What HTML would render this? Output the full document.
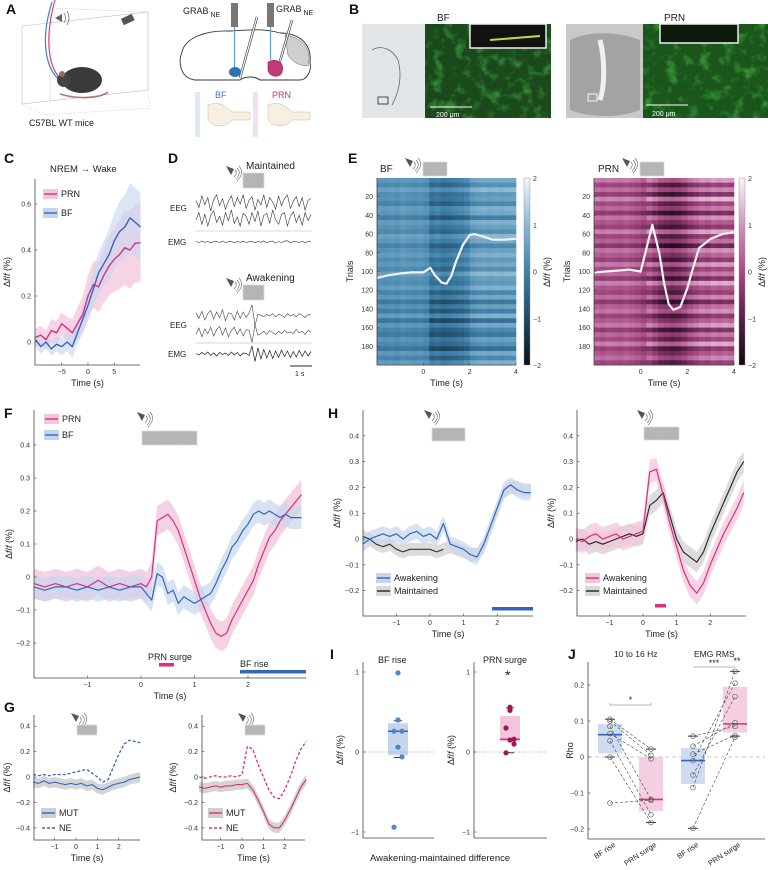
<!DOCTYPE html>
<html><head><meta charset="utf-8">
<style>
html,body{margin:0;padding:0;background:#fff;}
svg{display:block;font-family:"Liberation Sans",sans-serif;}
text{font-family:"Liberation Sans",sans-serif;fill:#222;}
.pl{font-weight:bold;font-size:14px;fill:#111;}
.tk{font-size:7px;fill:#333;}
.lb{font-size:9px;fill:#222;}
</style></head>
<body>
<svg id="fig" width="768" height="870" viewBox="0 0 768 870" xmlns="http://www.w3.org/2000/svg">
<defs>
<filter id="grn" x="0" y="0" width="100%" height="100%">
<feTurbulence type="fractalNoise" baseFrequency="0.09" numOctaves="3" seed="4"/>
<feColorMatrix type="matrix" values="0 0 0 0 0.1  0 0 0 0 0.7  0 0 0 0 0.1  0 0 0 1.3 -0.65"/>
</filter>
<filter id="nz" x="0" y="0" width="100%" height="100%">
<feTurbulence type="fractalNoise" baseFrequency="0.9" numOctaves="1" seed="2"/>
<feColorMatrix type="matrix" values="0 0 0 0 0.5 0 0 0 0 0.5 0 0 0 0 0.5 0 0 0 0.6 0"/>
</filter>
<linearGradient id="cbBF" x1="0" y1="1" x2="0" y2="0">
<stop offset="0" stop-color="#0b1218"/><stop offset="0.25" stop-color="#1f4a66"/><stop offset="0.5" stop-color="#3f80a8"/><stop offset="0.75" stop-color="#8ab8d2"/><stop offset="1" stop-color="#f4f8fb"/>
</linearGradient>
<linearGradient id="cbPRN" x1="0" y1="1" x2="0" y2="0">
<stop offset="0" stop-color="#120810"/><stop offset="0.25" stop-color="#5c1f47"/><stop offset="0.5" stop-color="#a64a83"/><stop offset="0.75" stop-color="#d394bd"/><stop offset="1" stop-color="#fbf4f8"/>
</linearGradient>
</defs>

<text class="pl" x="6" y="14">A</text>
<text class="pl" x="349" y="14">B</text>
<text class="pl" x="4" y="163">C</text>
<text class="pl" x="168" y="163">D</text>
<text class="pl" x="348" y="163">E</text>
<text class="pl" x="4" y="418">F</text>
<text class="pl" x="328" y="418">H</text>
<text class="pl" x="4" y="712">G</text>
<text class="pl" x="330" y="659">I</text>
<text class="pl" x="568" y="659">J</text>

<g>
<polyline points="22,26 148,12 148,90 22,104 22,26" fill="none" stroke="#bbb" stroke-width="0.6"/>
<polyline points="50,8 150,12" fill="none" stroke="#ccc" stroke-width="0.5" stroke-dasharray="2,1"/>
<polyline points="22,104 45,115 150,108 148,90" fill="none" stroke="#ccc" stroke-width="0.5" stroke-dasharray="2,1"/>
<line x1="50" y1="10" x2="50" y2="100" stroke="#ccc" stroke-width="0.5"/>
<path d="M52,2 C40,40 45,70 62,82" stroke="#4a7fc1" stroke-width="1.2" fill="none"/>
<path d="M55,0 C44,40 48,70 64,82" stroke="#d63a7a" stroke-width="1.1" fill="none"/>
<ellipse cx="82" cy="80" rx="20" ry="13" fill="#3a3a3a"/>
<circle cx="64" cy="80" r="7" fill="#444"/>
<circle cx="62" cy="74" r="3" fill="#9a6b6b"/>
<path d="M60,94 C80,100 100,98 108,92" stroke="#b5736e" stroke-width="1.5" fill="none"/>
<path d="M55,18 l7,-4 l0,8 z" fill="#666"/>
<path d="M64,13 q3,5 0,10 M67,11 q4,7 0,14" stroke="#666" stroke-width="0.7" fill="none"/>
<rect x="122" y="16" width="12" height="7" fill="#555" transform="rotate(-25 128 20)"/>
</g>
<text x="29" y="126" font-size="9">C57BL WT mice</text>
<g>
<path d="M182,52 C185,38 205,30 230,31 C250,30 262,28 280,33 C300,33 312,45 310,62 C312,72 306,80 300,80 L260,80 C255,76 245,76 240,80 L195,80 C180,78 178,62 182,52 Z" fill="#fff" stroke="#333" stroke-width="0.9"/>
<path d="M285,35 C305,38 312,52 308,66 C300,66 292,62 288,55 Z" fill="#cfcfcf" stroke="#666" stroke-width="0.5"/>
<rect x="231" y="3" width="7" height="24" fill="#777"/>
<rect x="267" y="3" width="7" height="24" fill="#777"/>
<line x1="234.5" y1="27" x2="234.5" y2="68" stroke="#5aa0d8" stroke-width="1.2"/>
<line x1="270.5" y1="27" x2="270.5" y2="60" stroke="#5aa0d8" stroke-width="1.2"/>
<line x1="257" y1="17" x2="240" y2="78" stroke="#333" stroke-width="2.4"/>
<line x1="257" y1="17" x2="240" y2="78" stroke="#fff" stroke-width="1.2"/>
<line x1="292" y1="20" x2="276" y2="75" stroke="#333" stroke-width="2.4"/>
<line x1="292" y1="20" x2="276" y2="75" stroke="#fff" stroke-width="1.2"/>
<ellipse cx="235" cy="72" rx="6" ry="5" fill="#2f6fb5"/>
<path d="M268,62 C276,58 285,62 282,72 C280,78 270,78 268,70 Z" fill="#c23a7a" stroke="#8a1f55" stroke-width="0.6"/>
<rect x="195" y="92" width="5" height="45" fill="#dde9f6"/>
<rect x="253" y="92" width="5" height="45" fill="#f1e1ee"/>
<path d="M208,105 C220,100 228,108 232,112 L250,112 L250,120 L232,120 C226,128 210,128 208,118 Z" fill="#f6efe2" stroke="#c9b79a" stroke-width="0.5"/>
<path d="M268,105 C280,100 288,108 292,112 L310,112 L310,120 L292,120 C286,128 270,128 268,118 Z" fill="#f6efe2" stroke="#c9b79a" stroke-width="0.5"/>
</g>
<text x="183" y="14" font-size="9">GRAB<tspan font-size="7" dy="3"> NE</tspan></text>
<text x="276" y="12" font-size="9">GRAB<tspan font-size="7" dy="3"> NE</tspan></text>
<text x="215" y="98" font-size="9" style="fill:#3a7cc3">BF</text>
<text x="272" y="98" font-size="9" style="fill:#c2386f">PRN</text>

<text x="437" y="21" font-size="10">BF</text>
<text x="664" y="21" font-size="10">PRN</text>
<g>
<rect x="362" y="24" width="63" height="94" fill="#e2e5e7"/>
<path d="M372,50 C380,45 392,48 398,60 C402,75 400,90 392,105" stroke="#666" stroke-width="0.8" fill="none"/>
<rect x="378" y="97" width="10" height="7" fill="none" stroke="#222" stroke-width="0.8"/>
<rect x="425" y="24" width="126" height="94" fill="#1a4a1c"/>
<rect x="425" y="24" width="126" height="94" filter="url(#grn)"/>
<rect x="470" y="24" width="76" height="24" fill="#111" stroke="#eee" stroke-width="1.5"/>
<line x1="490" y1="40" x2="540" y2="36" stroke="#c7d93a" stroke-width="2"/>
<line x1="430" y1="107" x2="472" y2="107" stroke="#fff" stroke-width="1"/>
</g>
<text x="436" y="117" font-size="7" style="fill:#fff">200 μm</text>
<g>
<rect x="566" y="24" width="77" height="94" fill="#c9c9c9"/>
<path d="M570,40 C590,30 620,32 640,40 L640,110 C620,118 590,118 570,110 Z" fill="#a3a3a3"/>
<path d="M600,40 C605,60 605,85 600,100" stroke="#f0f0f0" stroke-width="5" fill="none"/>
<rect x="588" y="94" width="9" height="7" fill="none" stroke="#fff" stroke-width="0.9"/>
<rect x="643" y="24" width="127" height="94" fill="#1a561c"/>
<rect x="643" y="24" width="127" height="94" filter="url(#grn)"/>
<rect x="660" y="24" width="78" height="19" fill="#0c1a0c" stroke="#eee" stroke-width="1.5"/>
<line x1="646" y1="105" x2="688" y2="105" stroke="#fff" stroke-width="1"/>
</g>
<text x="652" y="116" font-size="7" style="fill:#fff">200 μm</text>

<text x="50" y="172" font-size="9.5">NREM → Wake</text>
<text x="246" y="169" font-size="10">Maintained</text>
<text x="246" y="281" font-size="10">Awakening</text>
<text x="170" y="211" font-size="8">EEG</text>
<text x="168" y="245" font-size="8">EMG</text>
<text x="170" y="328" font-size="8">EEG</text>
<text x="168" y="357" font-size="8">EMG</text>
<line x1="196" y1="231" x2="312" y2="231" stroke="#ccc" stroke-width="0.8"/>
<line x1="196" y1="343" x2="312" y2="343" stroke="#ccc" stroke-width="0.8"/>
<line x1="290" y1="366" x2="312" y2="366" stroke="#555" stroke-width="1.2"/>
<text x="295" y="376" font-size="7">1 s</text>
<text x="380" y="172" font-size="10">BF</text>
<text x="598" y="172" font-size="10">PRN</text>
<text x="378" y="663" font-size="9">BF rise</text>
<text x="483" y="663" font-size="9">PRN surge</text>
<text x="505" y="680" font-size="14">*</text>
<text x="370" y="861" font-size="9.5">Awakening-maintained difference</text>
<text x="614" y="657" font-size="8.5">10 to 16 Hz</text>
<text x="694" y="657" font-size="8.5">EMG RMS</text>
<g id="dyn"></g>
</svg>

<script>
// ---------------- DATA ----------------
const cT = [-10,-9,-8,-7,-6,-5,-4,-3,-2,-1,0,1,2,3,4,5,6,7,8,9,10];
const cPRN = [0.02,0.03,0.01,0.05,0.04,0.08,0.06,0.04,0.08,0.12,0.2,0.25,0.24,0.29,0.33,0.36,0.38,0.41,0.40,0.43,0.43];
const cBF = [0.01,-0.02,0.0,-0.03,-0.01,-0.02,0.0,-0.02,0.04,0.1,0.16,0.23,0.3,0.34,0.38,0.44,0.48,0.50,0.54,0.52,0.50];
const cPRNsem = [0.04,0.04,0.04,0.05,0.05,0.05,0.05,0.06,0.07,0.08,0.09,0.1,0.11,0.12,0.13,0.14,0.15,0.16,0.17,0.17,0.17];
const cBFsem = [0.03,0.03,0.03,0.03,0.03,0.04,0.04,0.05,0.05,0.06,0.07,0.08,0.09,0.1,0.11,0.12,0.13,0.14,0.15,0.15,0.15];
const cXTicks = [-5,0,5];
const cYTicks = [0,0.2,0.4,0.6];
const dEEG1 = [0.3,-0.5,0.8,-0.2,0.6,-0.9,0.4,0.9,-0.3,0.5,-0.7,0.2,0.8,-0.4,0.6,-0.1,0.9,-0.6,0.3,0.7,-0.8,0.4,-0.2,0.9,-0.5,0.6,0.1,-0.7,0.8,-0.3,0.5,0.9,-0.6,0.2,0.7,-0.4,0.6,-0.8,0.3,0.5];
const dEEG2 = [-0.2,0.6,-0.7,0.4,-0.9,0.3,0.8,-0.5,0.2,-0.8,0.6,-0.3,0.9,-0.6,0.1,-0.9,0.5,0.2,-0.7,0.6,-0.4,0.8,-0.9,0.3,0.5,-0.6,0.9,-0.2,-0.7,0.4,0.6,-0.9,0.2,0.7,-0.5,0.3,-0.8,0.6,-0.3,0.4];
const dEMG1 = [0.2,-0.2,0.3,-0.1,0.2,-0.3,0.1,0.2,-0.2,0.3,-0.2,0.1,0.2,-0.3,0.2,-0.1,0.3,-0.2,0.1,0.2,-0.3,0.2,-0.1,0.4,-0.3,0.2,0.3,-0.4,0.2,-0.2,0.3,0.4,-0.3,0.2,0.1,-0.2,0.3,-0.3,0.2,0.1];
const dEEG3 = [0.4,-0.3,0.6,-0.5,0.3,0.7,-0.4,0.5,-0.2,0.8,-0.6,0.4,0.3,-0.5,0.6,-0.3,0.5,-0.2,0.4,1.4,-1.2,0.2,0.1,-0.1,0.2,0.0,0.3,-0.1,0.2,0.1,-0.2,0.3,0.0,0.2,-0.1,0.3,0.1,-0.2,0.2,0.1];
const dEEG4 = [-0.3,0.5,-0.6,0.4,-0.2,0.6,-0.5,0.3,0.7,-0.4,0.5,-0.6,0.2,0.6,-0.3,0.4,-0.5,0.3,0.2,-1.3,0.9,-0.4,-0.2,0.1,-0.3,0.2,-0.1,-0.3,0.1,-0.2,0.2,-0.1,0.0,-0.2,0.3,-0.1,0.1,-0.3,0.2,0.0];
const dEMG2 = [0.1,-0.2,0.3,-0.1,0.4,-0.3,0.2,-0.4,0.3,-0.1,0.2,-0.3,0.4,-0.2,0.3,-0.4,0.2,0.1,-0.3,1.6,-1.5,1.2,-1.0,0.9,-0.8,0.7,-0.9,0.6,-0.7,0.8,-0.5,0.6,-0.7,0.5,-0.6,0.7,-0.5,0.6,-0.4,0.5];
const eBins = [-2,-1.75,-1.5,-1.25,-1,-0.75,-0.5,-0.25,0,0.25,0.5,0.75,1,1.25,1.5,1.75,2,2.25,2.5,2.75,3,3.25,3.5,3.75];
const bfProfile = [0.35,0.3,0.35,0.3,0.4,0.35,0.3,0.35,0.25,-0.2,-0.1,-0.25,-0.2,-0.1,-0.05,0.1,0.45,0.55,0.6,0.55,0.6,0.55,0.6,0.6];
const prnProfile = [0.2,0.1,0.2,0.15,0.1,0.2,0.1,0.0,-0.2,0.0,-0.3,-0.6,-0.7,-0.8,-0.7,-0.5,-0.2,0.0,0.2,0.1,0.3,0.2,0.3,0.2];
const bfRowOffset = [0.1,-0.2,0.3,-0.1,0.0,-0.3,0.2,0.1,-0.4,0.2,0.0,-0.2,0.3,0.1,-0.3,0.0,0.2,-0.1,0.1,-0.2,0.3,0.0,-0.1,0.2,-0.3,0.1,-0.5,0.0,-0.4,0.2,-0.6,0.1,-0.3,-0.5,0.0,-0.2,-0.6,0.1,-0.3,0.2];
const prnRowOffset = [0.6,-0.3,0.4,-0.5,0.8,-0.2,0.3,-0.6,0.5,0.0,-0.4,0.7,-0.3,0.2,-0.7,0.5,0.1,-0.4,0.6,-0.2,0.3,-0.5,0.7,0.0,-0.3,0.4,-0.6,0.2,0.5,-0.4,0.1,0.6,-0.5,0.3,-0.2,0.7,-0.4,0.0,0.4,-0.3];
const eTraceT = [-2,-1.5,-1,-0.5,0,0.3,0.5,0.8,1.0,1.2,1.4,1.7,2.0,2.2,2.5,3,3.5,4];
const bfTraceTrial = [107,104,102,101,101,96,104,112,113,105,90,72,61,60,62,66,66,65];
const prnTraceTrial = [101,100,99,98,100,70,50,80,112,135,141,138,118,100,75,65,60,58];
const eTrialTicks = [20,40,60,80,100,120,140,160,180];
const eTimeTicks = [0,2,4];
const cbTicks = [2,1,0,-1,-2];
const fT = [-2,-1.8,-1.6,-1.4,-1.2,-1,-0.8,-0.6,-0.4,-0.2,0,0.1,0.2,0.3,0.4,0.5,0.6,0.7,0.8,0.9,1.0,1.1,1.2,1.3,1.4,1.5,1.6,1.7,1.8,1.9,2.0,2.1,2.2,2.3,2.4,2.5,2.6,2.7,2.8,2.9,3.0];
const fPRN = [-0.02,-0.03,-0.02,-0.03,-0.02,-0.03,-0.01,-0.03,-0.02,-0.03,-0.02,-0.03,0.0,0.17,0.18,0.19,0.17,0.14,0.09,0.04,-0.01,-0.06,-0.1,-0.14,-0.17,-0.18,-0.17,-0.13,-0.1,-0.07,-0.04,-0.01,0.04,0.08,0.12,0.14,0.17,0.19,0.21,0.23,0.25];
const fBF = [-0.03,-0.04,-0.03,-0.03,-0.04,-0.03,-0.04,-0.03,-0.04,-0.03,-0.03,-0.05,-0.07,0.01,0.0,-0.05,-0.04,-0.08,-0.06,-0.07,-0.08,-0.07,-0.06,-0.05,-0.02,0.02,0.05,0.09,0.11,0.14,0.16,0.19,0.20,0.19,0.20,0.19,0.18,0.19,0.18,0.18,0.18];
const fPRNsem = 0.045, fBFsem = 0.035;
const fXTicks = [-1,0,1,2];
const fYTicks = [-0.2,-0.1,0,0.1,0.2,0.3,0.4];
const hT = [-2,-1.8,-1.6,-1.4,-1.2,-1,-0.8,-0.6,-0.4,-0.2,0,0.2,0.4,0.6,0.8,1.0,1.2,1.4,1.6,1.8,2.0,2.2,2.4,2.6,2.8,3.0];
const hBFawake = [-0.02,0.0,0.01,0.02,0.01,0.02,0.0,0.02,0.03,0.01,0.02,0.0,0.06,-0.02,-0.03,-0.04,-0.06,-0.07,-0.02,0.05,0.12,0.19,0.21,0.19,0.18,0.18];
const hBFmaint = [0.01,0.0,-0.02,-0.03,-0.02,-0.04,-0.05,-0.04,-0.04,-0.04,-0.04,-0.05,-0.04,-0.03,-0.04,-0.05,-0.06,-0.06,-0.03,0.04,0.11,0.18,0.2,0.2,0.19,0.19];
const hPRNawake = [0.0,-0.01,0.01,0.02,0.0,0.01,0.02,0.0,0.01,0.02,0.03,0.26,0.27,0.17,0.06,-0.03,-0.12,-0.18,-0.21,-0.17,-0.1,-0.04,0.02,0.07,0.12,0.18];
const hPRNmaint = [-0.01,0.0,-0.02,-0.01,-0.02,-0.01,0.0,0.01,0.02,0.01,0.02,0.13,0.15,0.18,0.09,0.0,-0.05,-0.07,-0.09,-0.05,0.02,0.08,0.14,0.2,0.26,0.3];
const hXTicks = [-1,0,1,2];
const hYTicks = [-0.2,-0.1,0,0.1,0.2,0.3,0.4];
const gT = [-2,-1.75,-1.5,-1.25,-1,-0.75,-0.5,-0.25,0,0.25,0.5,0.75,1,1.25,1.5,1.75,2,2.25,2.5,2.75,3];
const gBFne = [0.02,0.01,0.02,0.01,0.02,0.02,0.02,0.03,0.04,0.05,0.06,0.03,0.0,-0.04,-0.02,0.08,0.18,0.26,0.29,0.28,0.27];
const gBFmut = [-0.04,-0.05,-0.03,-0.05,-0.04,-0.05,-0.06,-0.05,-0.06,-0.05,-0.07,-0.06,-0.09,-0.1,-0.08,-0.06,-0.05,-0.04,-0.02,-0.01,0.0];
const gPRNne = [0.0,-0.01,0.0,0.01,0.0,0.0,0.01,0.0,0.02,0.24,0.22,0.1,0.0,-0.1,-0.16,-0.17,-0.1,0.0,0.12,0.22,0.28];
const gPRNmut = [-0.08,-0.09,-0.08,-0.07,-0.08,-0.07,-0.07,-0.06,-0.06,-0.05,-0.1,-0.18,-0.27,-0.37,-0.4,-0.4,-0.34,-0.26,-0.17,-0.08,-0.02];
const gXTicks = [-1,0,1,2];
const gYTicks = [-0.4,-0.2,0,0.2,0.4];
const iBF = [0.99,0.40,0.26,0.26,0.06,-0.06,-0.94];
const iPRN = [0.56,0.52,0.30,0.16,0.15,0.10,-0.01];
const iBFbox = [-0.04,0.26,0.36];
const iPRNbox = [0.13,0.16,0.45];
const iBFcaps = [-0.07,0.39];
const iPRNcaps = [-0.01,0.55];
const iYTicks = [-1,0,1];
const jCats = ['BF rise','PRN surge','BF rise','PRN surge'];
const jSpBF = [0.105,0.10,0.085,0.065,0.045,0.0,-0.128];
const jSpPRN = [0.022,0.005,-0.118,-0.005,-0.16,-0.182,-0.12];
const jEmgBF = [0.058,0.03,0.008,-0.01,-0.05,-0.085,-0.198];
const jEmgPRN = [0.085,0.095,0.06,0.205,0.168,0.238,0.055];
const jQ1 = [0.01,-0.15,-0.075,0.068];
const jMed = [0.062,-0.118,-0.01,0.092];
const jQ3 = [0.092,0.0,0.025,0.195];
const jCapLo = [0.0,-0.182,-0.198,0.058];
const jCapHi = [0.105,0.022,0.058,0.238];
const jYTicks = [-0.2,-0.1,0,0.1,0.2];

// ---------------- HELPERS ----------------
const NS = 'http://www.w3.org/2000/svg';
const root = document.getElementById('dyn');
const BLUE = '#3465c0', PINK = '#dc2f7c', LBLUE = '#c6d5ee', LPINK = '#f3c6dd';
function mk(tag, attrs, parent) {
  const e = document.createElementNS(NS, tag);
  for (const k in attrs) e.setAttribute(k, attrs[k]);
  (parent || root).appendChild(e);
  return e;
}
function fmt(v) { return (v < 0 ? '\u2212' : '') + String(Math.abs(Math.round(v * 100) / 100)); }
function linScale(d0, d1, r0, r1) { return v => r0 + (v - d0) * (r1 - r0) / (d1 - d0); }
function pathD(T, V, sx, sy) { return T.map((t, i) => (i ? 'L' : 'M') + sx(t).toFixed(1) + ',' + sy(V[i]).toFixed(1)).join(''); }
function drawAxes(name, x0, x1, y0, y1, sx, sy, xt, yt, xlab, ylab, ylabX) {
  const g = mk('g', {});
  
  
  const ax = mk('path', { d: `M${x0},${y0}L${x0},${y1}` + (xt ? `L${x1},${y1}` : ''), stroke: '#444', 'stroke-width': 0.8, fill: 'none' }, g);
  
  
  (yt || []).forEach(v => {
    const tk = mk('line', { x1: x0, x2: x0 + 2.5, y1: sy(v), y2: sy(v), stroke: '#444', 'stroke-width': 0.6 }, g);
    
    
    const tl = mk('text', { x: x0 - 4, y: sy(v) + 2.5, 'text-anchor': 'end', class: 'tk' }, g);
    
    
    tl.textContent = fmt(v);
  });
  (xt || []).forEach(v => {
    const tk = mk('line', { x1: sx(v), x2: sx(v), y1: y1, y2: y1 - 2.5, stroke: '#444', 'stroke-width': 0.6 }, g);
    
    
    const tl = mk('text', { x: sx(v), y: y1 + 9, 'text-anchor': 'middle', class: 'tk' }, g);
    
    
    tl.textContent = fmt(v);
  });
  if (xlab) {
    const xl = mk('text', { x: (x0 + x1) / 2, y: y1 + 21, 'text-anchor': 'middle', class: 'lb' }, g);
    
    
    xl.textContent = xlab;
  }
  if (ylab) {
    const yc = (y0 + y1) / 2;
    const yl = mk('text', { x: ylabX, y: yc, 'text-anchor': 'middle', class: 'lb', transform: `rotate(-90 ${ylabX} ${yc})` }, g);
    
    
    if (ylab === 'dff') { yl.innerHTML = 'Δ<tspan font-style="italic">f</tspan>/<tspan font-style="italic">f</tspan> (%)'; }
    else yl.textContent = ylab;
  }
}
function band(name, T, V, S, sx, sy, color, op) {
  const up = T.map((t, i) => sx(t).toFixed(1) + ',' + sy(V[i] + (Array.isArray(S) ? S[i] : S)).toFixed(1));
  const dn = T.map((t, i) => sx(t).toFixed(1) + ',' + sy(V[i] - (Array.isArray(S) ? S[i] : S)).toFixed(1)).reverse();
  const p = mk('polygon', { points: up.concat(dn).join(' '), fill: color, opacity: op || 0.7 });
  
  
}
function line(name, T, V, sx, sy, color, w, dash) {
  const p = mk('path', { d: pathD(T, V, sx, sy), stroke: color, 'stroke-width': w || 1.2, fill: 'none', 'stroke-linejoin': 'round' });
  if (dash) p.setAttribute('stroke-dasharray', dash);
  
  
}
function legend(name, x, y, label, color, bandColor, dash) {
  if (bandColor) {
    const r = mk('rect', { x: x, y: y - 5, width: 15, height: 10, fill: bandColor });
    
    
  }
  const l = mk('line', { x1: x + 1, x2: x + 14, y1: y, y2: y, stroke: color, 'stroke-width': 1.4 });
  if (dash) l.setAttribute('stroke-dasharray', dash);
  
  
  const t = mk('text', { x: x + 18, y: y + 3, class: 'lb' });
  
  
  t.textContent = label;
}
function speaker(name, x, y, bx, by, bw, bh) {
  const g = mk('g', {});
  
  
  const tri = mk('path', { d: `M${x},${y} l8,3 l-3,6 z`, fill: '#555' }, g);
  
  
  const arcs = mk('path', { d: `M${x + 9},${y + 4} q3,3 -1,7 M${x + 11},${y + 2} q5,5 -1,11 M${x + 13},${y} q6,7 -2,15`, stroke: '#666', 'stroke-width': 0.6, fill: 'none' }, g);
  
  
  const box = mk('rect', { x: bx, y: by, width: bw, height: bh, fill: '#b4b4b4', stroke: '#ddd', 'stroke-width': 0.8 }, g);
  
  
  const nz = mk('rect', { x: bx, y: by, width: bw, height: bh, filter: 'url(#nz)', opacity: 0.5 }, g);
  
  
}
function trace(name, arr, x0, x1, yc, amp, color, w) {
  const sx = linScale(0, arr.length - 1, x0, x1);
  const d = arr.map((v, i) => (i ? 'L' : 'M') + sx(i).toFixed(1) + ',' + (yc - v * amp).toFixed(1)).join('');
  const p = mk('path', { d: d, stroke: color, 'stroke-width': w, fill: 'none' });
  
  
}
function cmap(stops, v) {
  v = Math.max(-2, Math.min(2, v));
  const f = (v + 2) / 4 * (stops.length - 1);
  const i = Math.min(stops.length - 2, Math.floor(f)), r = f - i;
  const a = stops[i], b = stops[i + 1];
  return 'rgb(' + [0, 1, 2].map(k => Math.round(a[k] + (b[k] - a[k]) * r)).join(',') + ')';
}
const BFSTOPS = [[11,18,24],[31,74,102],[63,128,168],[138,184,210],[244,248,251]];
const PRNSTOPS = [[18,8,16],[92,31,71],[166,74,131],[211,148,189],[251,244,248]];

// ---------------- PANEL C ----------------
{
  const sx = linScale(-10, 10, 35.5, 140.5), sy = linScale(0, 1, 342, 112);
  band('c-prn-sem-band', cT, cPRN, cPRNsem, sx, sy, LPINK, 0.75);
  band('c-bf-sem-band', cT, cBF, cBFsem, sx, sy, LBLUE, 0.6);
  line('c-prn-line', cT, cPRN, sx, sy, PINK, 1.4);
  line('c-bf-line', cT, cBF, sx, sy, BLUE, 1.4);
  drawAxes('c-axes', 35, 140, 179, 365, sx, sy, cXTicks, cYTicks, 'Time (s)', 'dff', 10);
  legend('c-legend-prn', 43, 194, 'PRN', PINK, LPINK);
  legend('c-legend-bf', 43, 213, 'BF', BLUE, LBLUE);
}
// ---------------- PANEL D ----------------
speaker('d-maintained-stimulus', 226, 166, 243, 173, 21, 15);
speaker('d-awakening-stimulus', 226, 278, 243, 285, 21, 15);
trace('d-eeg-maintained-1', dEEG1, 196, 311, 203, 9, '#333', 0.6);
trace('d-eeg-maintained-2', dEEG2, 196, 311, 218, 9, '#333', 0.6);
trace('d-emg-maintained', dEMG1, 196, 311, 242, 3, '#333', 0.6);
trace('d-eeg-awakening-1', dEEG3, 196, 311, 316, 8, '#444', 0.6);
trace('d-eeg-awakening-2', dEEG4, 196, 311, 332, 8, '#444', 0.6);
trace('d-emg-awakening', dEMG2, 196, 311, 354, 5, '#222', 0.7);
// ---------------- PANEL E ----------------
function heatmap(name, x0, x1, prof, rowOff, stops) {
  const sx = linScale(-2, 4, x0, x1), sTrial = linScale(0, 200, 178, 365);
  const g = mk('g', {});
  
  
  const cw = sx(0.25) - sx(0);
  rowOff.forEach((ro, r) => {
    eBins.forEach((t, c) => {
      const v = prof[c] + ro * (t > 0.2 ? 1.4 : 0.8);
      const cell = mk('rect', { x: sx(t).toFixed(2), y: sTrial(r * 5).toFixed(2), width: (cw + 0.3).toFixed(2), height: 5 * 0.935 + 0.3, fill: cmap(stops, v) }, g);
      
      
    });
  });
  return { sx, sTrial };
}
function eAxes(name, x0, x1, sx, sTrial, traceVals, cbx, grad) {
  const tr = mk('path', { d: pathD(eTraceT, traceVals, sx, sTrial), stroke: '#f2f2f2', 'stroke-width': 2.2, fill: 'none', 'stroke-linejoin': 'round' });
  
  
  drawAxes(name + '-axes', x0, x1, 178, 365, sx, sTrial, eTimeTicks, eTrialTicks, 'Time (s)', 'Trials', x0 - 24);
  const cb = mk('rect', { x: cbx, y: 178, width: 6, height: 187, fill: grad, stroke: '#888', 'stroke-width': 0.4 });
  
  
  const cs = linScale(-2, 2, 365, 178);
  cbTicks.forEach(v => {
    const t = mk('text', { x: cbx + 9, y: cs(v) + 3, class: 'tk' });
    
    
    t.textContent = fmt(v);
  });
  const yl = mk('text', { x: cbx + 26, y: 272, 'text-anchor': 'middle', class: 'lb', transform: `rotate(-90 ${cbx + 26} 272)` });
  
  
  yl.innerHTML = 'Δ<tspan font-style="italic">f</tspan>/<tspan font-style="italic">f</tspan> (%)';
}
{
  const h = heatmap('e-bf-heatmap', 377, 516, bfProfile, bfRowOffset, BFSTOPS);
  eAxes('e-bf', 377, 516, h.sx, h.sTrial, bfTraceTrial, 524, 'url(#cbBF)');
  speaker('e-bf-stimulus', 405, 158, 423, 162, 24, 14);
  const h2 = heatmap('e-prn-heatmap', 594, 734, prnProfile, prnRowOffset, PRNSTOPS);
  eAxes('e-prn', 594, 734, h2.sx, h2.sTrial, prnTraceTrial, 739, 'url(#cbPRN)');
  speaker('e-prn-stimulus', 622, 158, 640, 162, 24, 14);
}
// ---------------- PANEL F ----------------
{
  const sx = linScale(0, 1, 141, 194.5), sy = linScale(0, 1, 577, 247);
  band('f-prn-sem-band', fT, fPRN, fPRNsem, sx, sy, LPINK, 0.8);
  band('f-bf-sem-band', fT, fBF, fBFsem, sx, sy, LBLUE, 0.7);
  line('f-prn-line', fT, fPRN, sx, sy, PINK, 1.2);
  line('f-bf-line', fT, fBF, sx, sy, BLUE, 1.2);
  drawAxes('f-axes', 34, 306, 410, 678, sx, sy, fXTicks, fYTicks, 'Time (s)', 'dff', 12);
  legend('f-legend-prn', 44, 419, 'PRN', PINK, LPINK);
  legend('f-legend-bf', 44, 435, 'BF', BLUE, LBLUE);
  speaker('f-stimulus', 137, 412, 142, 431, 55, 14);
  const b1 = mk('rect', { x: 159, y: 663, width: 15, height: 3.5, fill: PINK });
  
  
  const t1 = mk('text', { x: 148, y: 660, 'font-size': 8.5, class: 'lb' });
  
  
  t1.textContent = 'PRN surge';
  const b2 = mk('rect', { x: 240, y: 670, width: 66, height: 3.5, fill: BLUE });
  
  
  const t2 = mk('text', { x: 240, y: 667, class: 'lb' });
  
  
  t2.textContent = 'BF rise';
}
// ---------------- PANEL H ----------------
{
  const sy = linScale(0, 1, 539, 281);
  const sxL = linScale(0, 1, 430, 463.6), sxR = linScale(0, 1, 643, 676.6);
  band('h-bf-maintained-band', hT, hBFmaint, 0.025, sxL, sy, '#d8d8d8', 0.9);
  band('h-bf-awakening-band', hT, hBFawake, 0.03, sxL, sy, LBLUE, 0.7);
  line('h-bf-maintained-line', hT.slice(0, 13), hBFmaint.slice(0, 13), sxL, sy, '#333', 1.1);
  line('h-bf-awakening-line', hT, hBFawake, sxL, sy, BLUE, 1.2);
  drawAxes('h-bf-axes', 363, 533, 410, 616, sxL, sy, hXTicks, hYTicks, 'Time (s)', 'dff', 340);
  legend('h-bf-legend-awakening', 376, 578, 'Awakening', BLUE, LBLUE);
  legend('h-bf-legend-maintained', 376, 591, 'Maintained', '#222', '#d8d8d8');
  speaker('h-bf-stimulus', 424, 410, 432, 428, 33, 13);
  const bb = mk('rect', { x: 492, y: 607, width: 41, height: 3.5, fill: BLUE });
  
  

  band('h-prn-maintained-band', hT, hPRNmaint, 0.04, sxR, sy, '#d8d8d8', 0.9);
  band('h-prn-awakening-band', hT, hPRNawake, 0.045, sxR, sy, LPINK, 0.75);
  line('h-prn-maintained-line', hT, hPRNmaint, sxR, sy, '#222', 1.1);
  line('h-prn-awakening-line', hT, hPRNawake, sxR, sy, PINK, 1.2);
  drawAxes('h-prn-axes', 577, 746, 410, 616, sxR, sy, hXTicks, hYTicks, 'Time (s)', 'dff', 554);
  legend('h-prn-legend-awakening', 585, 578, 'Awakening', PINK, LPINK);
  legend('h-prn-legend-maintained', 585, 591, 'Maintained', '#222', '#d8d8d8');
  speaker('h-prn-stimulus', 637, 410, 644, 427, 35, 13);
  const pb = mk('rect', { x: 655, y: 604, width: 11, height: 3.5, fill: PINK });
  
  
}
// ---------------- PANEL G ----------------
{
  const sy = linScale(0, 1, 777, 650);
  const sxL = linScale(0, 1, 76, 97.4), sxR = linScale(0, 1, 242, 263.4);
  band('g-bf-mut-band', gT, gBFmut, 0.04, sxL, sy, '#cfcfcf', 0.9);
  line('g-bf-mut-line', gT, gBFmut, sxL, sy, BLUE, 1.1);
  line('g-bf-ne-line', gT, gBFne, sxL, sy, BLUE, 1.3, '3,2');
  drawAxes('g-bf-axes', 34, 140, 715, 840, sxL, sy, gXTicks, gYTicks, 'Time (s)', 'dff', 10);
  legend('g-bf-legend-mut', 41, 813, 'MUT', BLUE, '#cfcfcf');
  legend('g-bf-legend-ne', 41, 828, 'NE', BLUE, null, '3,2');
  speaker('g-bf-stimulus', 71, 713, 77, 725, 20, 10);

  band('g-prn-mut-band', gT, gPRNmut, 0.04, sxR, sy, '#cfcfcf', 0.9);
  line('g-prn-mut-line', gT, gPRNmut, sxR, sy, PINK, 1.1);
  line('g-prn-ne-line', gT, gPRNne, sxR, sy, PINK, 1.3, '3,2');
  drawAxes('g-prn-axes', 202, 305, 715, 840, sxR, sy, gXTicks, gYTicks, 'Time (s)', 'dff', 176);
  legend('g-prn-legend-mut', 208, 813, 'MUT', PINK, '#cfcfcf');
  legend('g-prn-legend-ne', 208, 828, 'NE', PINK, null, '3,2');
  speaker('g-prn-stimulus', 238, 713, 245, 725, 20, 10);
}
// ---------------- PANEL I ----------------
{
  const sy = linScale(0, 1, 752, 672);
  function iPanel(name, x0, x1, cx, vals, box, caps, fill, stroke, dot) {
    const bx = mk('rect', { x: cx - 10, y: sy(box[2]), width: 20, height: sy(box[0]) - sy(box[2]), fill: fill });
    
    
    const z = mk('line', { x1: x0, x2: x1, y1: sy(0), y2: sy(0), stroke: '#666', 'stroke-width': 0.6, 'stroke-dasharray': '1,1.5' });
    
    
    const md = mk('line', { x1: cx - 10, x2: cx + 10, y1: sy(box[1]), y2: sy(box[1]), stroke: stroke, 'stroke-width': 1.5 });
    
    
    caps.forEach(c => {
      const cp = mk('line', { x1: cx - 4, x2: cx + 4, y1: sy(c), y2: sy(c), stroke: '#222', 'stroke-width': 0.9 });
      
      
    });
    const jit = [0, 0, -4, 4, 0, 4, -4, 0];
    vals.forEach((v, i) => {
      const d = mk('circle', { cx: cx + jit[i % jit.length], cy: sy(v), r: 2.6, fill: dot });
      
      
    });
    drawAxes(name + '-axes', x0, x1, 662, 838, null, sy, null, iYTicks, null, 'dff', x0 - 20);
    const bl = mk('line', { x1: x0, x2: x1, y1: 838, y2: 838, stroke: '#444', 'stroke-width': 0.8 });
    
    
  }
  iPanel('i-bf', 363, 434, 398, iBF, iBFbox, iBFcaps, LBLUE, BLUE, '#4a86c8');
  iPanel('i-prn', 474, 547, 510, iPRN, iPRNbox, iPRNcaps, LPINK, PINK, '#a3154f');
}
// ---------------- PANEL J ----------------
{
  const sy = linScale(0, 1, 757, 397);
  const cx = [610, 651, 693, 735];
  const z = mk('line', { x1: 588, x2: 765, y1: sy(0), y2: sy(0), stroke: '#bbb', 'stroke-width': 0.8, 'stroke-dasharray': '4,3' });
  
  
  jCats.forEach((c, k) => {
    const bx = mk('rect', { x: cx[k] - 12, y: sy(jQ3[k]), width: 24, height: sy(jQ1[k]) - sy(jQ3[k]), fill: k % 2 ? LPINK : LBLUE, opacity: 0.85 });
    
    
    const md = mk('line', { x1: cx[k] - 12, x2: cx[k] + 12, y1: sy(jMed[k]), y2: sy(jMed[k]), stroke: k % 2 ? PINK : BLUE, 'stroke-width': 1.6 });
    
    
    [jCapLo[k], jCapHi[k]].forEach(v => {
      const cp = mk('line', { x1: cx[k] - 5, x2: cx[k] + 5, y1: sy(v), y2: sy(v), stroke: '#222', 'stroke-width': 0.9 });
      
      
    });
    const tl = mk('text', { x: cx[k] + 6, y: 846, 'text-anchor': 'end', class: 'lb', 'font-size': 7.5, style: 'font-size:7.5px', transform: `rotate(-33 ${cx[k] + 6} 846)` });
    
    
    tl.textContent = c;
  });
  function pairs(A, B, xa, xb) {
    A.forEach((v, i) => {
      const l = mk('line', { x1: xa, x2: xb, y1: sy(v), y2: sy(B[i]), stroke: '#444', 'stroke-width': 0.6, 'stroke-dasharray': '3,2' });
      
      
    });
    A.forEach(v => {
      const c = mk('circle', { cx: xa, cy: sy(v), r: 2.4, fill: 'none', stroke: '#555', 'stroke-width': 0.6 });
      
      
    });
    B.forEach(v => {
      const c = mk('circle', { cx: xb, cy: sy(v), r: 2.4, fill: 'none', stroke: '#555', 'stroke-width': 0.6 });
      
      
    });
  }
  pairs(jSpBF, jSpPRN, cx[0], cx[1]);
  pairs(jEmgBF, jEmgPRN, cx[2], cx[3]);
  drawAxes('j-axes', 588, 765, 662, 839, null, sy, null, jYTicks, null, 'Rho', 573);
  const bl = mk('line', { x1: 588, x2: 765, y1: 839, y2: 839, stroke: '#444', 'stroke-width': 0.8 });
  
  
  const s1 = mk('path', { d: `M${cx[0]},703 L${cx[0]},705 L${cx[1]},705 L${cx[1]},703`, stroke: '#777', 'stroke-width': 0.6, fill: 'none' });
  
  
  const s1t = mk('text', { x: (cx[0] + cx[1]) / 2, y: 703, 'text-anchor': 'middle', 'font-size': 9 });
  
  
  s1t.textContent = '*';
  const s2 = mk('line', { x1: cx[2], x2: cx[3], y1: 667, y2: 667, stroke: '#777', 'stroke-width': 0.6 });
  
  
  const s2t = mk('text', { x: (cx[2] + cx[3]) / 2, y: 666, 'text-anchor': 'middle', 'font-size': 9 });
  
  
  s2t.textContent = '***';
  const s3t = mk('text', { x: cx[3] + 2, y: 664, 'text-anchor': 'middle', 'font-size': 9 });
  
  
  s3t.textContent = '**';
}
</script>
</body></html>
